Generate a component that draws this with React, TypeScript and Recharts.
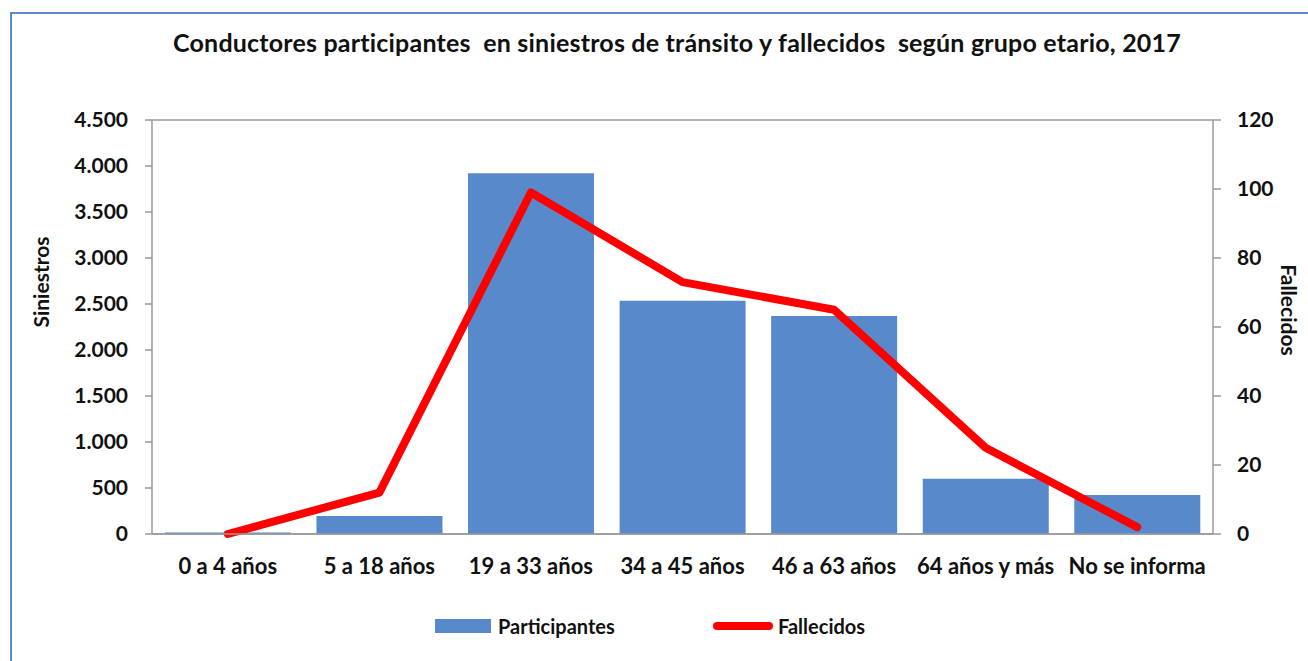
import React from 'react';
import {
  ComposedChart,
  Bar,
  Line,
  XAxis,
  YAxis,
  CartesianGrid,
} from 'recharts';

const categories = [
  '0 a 4 años',
  '5 a 18 años',
  '19 a 33 años',
  '34 a 45 años',
  '46 a 63 años',
  '64 años y más',
  'No se informa',
];
const participantes = [15, 195, 3920, 2535, 2370, 600, 425];
const fallecidos = [0, 12, 99, 73, 65, 25, 2];
const leftTicks = [0, 500, 1000, 1500, 2000, 2500, 3000, 3500, 4000, 4500];
const rightTicks = [0, 20, 40, 60, 80, 100, 120];

const data = categories.map((name, i) => ({
  name,
  participantes: participantes[i],
  fallecidos: fallecidos[i],
}));

const FONT = 'Lato, "Open Sans", sans-serif';
const BAR_COLOR = '#5889CA';
const LINE_COLOR = '#FF0000';
const GRID = '#9a9a9a';
const TEXT = '#111';

// 4.500 style labels
const fmtThousands = (v: number) => v.toLocaleString('de-DE');

const tickStyle = { fill: TEXT, fontSize: 21, fontWeight: 700, fontFamily: FONT };

const rotated = (text: string, cx: number, cy: number, angle: number) => (
  <div
    style={{
      position: 'absolute',
      left: cx - 100,
      top: cy - 14,
      width: 200,
      height: 28,
      lineHeight: '28px',
      textAlign: 'center',
      fontSize: 21,
      fontWeight: 700,
      color: TEXT,
      transform: `rotate(${angle}deg)`,
    }}
  >
    {text}
  </div>
);

const App: React.FC = () => {
  return (
    <div
      style={{
        position: 'absolute',
        left: 0,
        top: 0,
        width: 1308,
        height: 661,
        background: '#fff',
        fontFamily: FONT,
        overflow: 'hidden',
      }}
    >
      {/* frame */}
      <div
        style={{
          position: 'absolute',
          left: 10,
          top: 12,
          width: 1320,
          height: 700,
          borderTop: '2px solid #5A8AD0',
          borderLeft: '2px solid #5A8AD0',
        }}
      />
      <div
        style={{
          position: 'absolute',
          left: 0,
          width: 1354,
          top: 27,
          textAlign: 'center',
          fontWeight: 700,
          fontSize: 25,
          color: TEXT,
          letterSpacing: 0.2,
        }}
      >
        Conductores participantes&nbsp; en siniestros de tránsito y fallecidos&nbsp; según grupo etario, 2017
      </div>
      <div style={{ position: 'absolute', left: 0, top: 0 }}>
        <ComposedChart
          width={1308}
          height={661}
          data={data}
          margin={{ top: 120, right: 35, bottom: 87, left: 52 }}
          barCategoryGap="8.5%"
        >
          <CartesianGrid vertical={false} stroke={GRID} strokeWidth={1.5} />
          <XAxis
            dataKey="name"
            tickLine={false}
            axisLine={{ stroke: GRID, strokeWidth: 1.5 }}
            height={40}
            tickMargin={18}
            interval={0}
            tick={{ ...tickStyle, fontSize: 22 }}
          />
          <YAxis
            yAxisId="left"
            orientation="left"
            domain={[0, 4500]}
            ticks={leftTicks}
            tickFormatter={fmtThousands}
            width={100}
            tickSize={7}
            tickMargin={17}
            axisLine={{ stroke: GRID, strokeWidth: 1.5 }}
            tickLine={{ stroke: GRID, strokeWidth: 1.5 }}
            tick={tickStyle}
          />
          <YAxis
            yAxisId="right"
            orientation="right"
            domain={[0, 120]}
            ticks={rightTicks}
            width={60}
            tickSize={8}
            tickMargin={16}
            axisLine={{ stroke: GRID, strokeWidth: 1.5 }}
            tickLine={{ stroke: GRID, strokeWidth: 1.5 }}
            tick={tickStyle}
          />
          <Bar
            yAxisId="left"
            dataKey="participantes"
            fill={BAR_COLOR}
            isAnimationActive={false}
          />
          <Line
            yAxisId="right"
            dataKey="fallecidos"
            stroke={LINE_COLOR}
            strokeWidth={8}
            dot={false}
            activeDot={false}
            strokeLinejoin="round"
            strokeLinecap="round"
            isAnimationActive={false}
          />
        </ComposedChart>
      </div>
      {rotated('Siniestros', 41, 282, -90)}
      {rotated('Fallecidos', 1289, 310, 90)}
      {/* legend */}
      <div
        style={{
          position: 'absolute',
          left: 435,
          top: 614,
          display: 'flex',
          alignItems: 'center',
          fontSize: 20,
          fontWeight: 700,
          color: TEXT,
        }}
      >
        <span style={{ display: 'inline-block', width: 56, height: 14, background: BAR_COLOR, marginRight: 7 }} />
        <span style={{ width: 215 }}>Participantes</span>
        <span
          style={{
            display: 'inline-block',
            width: 60,
            height: 8,
            borderRadius: 4,
            background: LINE_COLOR,
            marginRight: 5,
          }}
        />
        <span>Fallecidos</span>
      </div>
    </div>
  );
};

export default App;
